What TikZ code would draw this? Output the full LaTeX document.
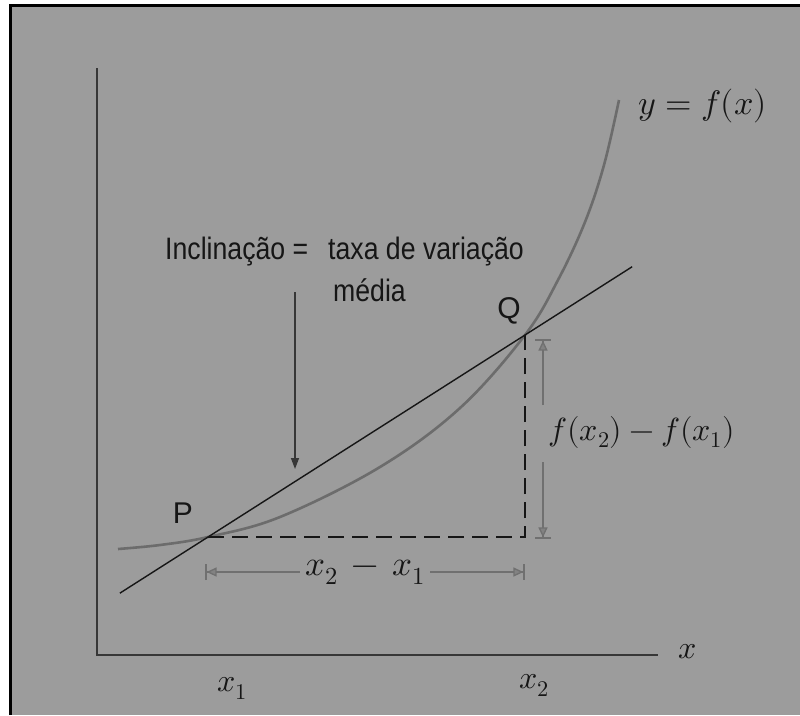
\documentclass[tikz,border=0pt]{standalone}
\usepackage{fontspec}
\usepackage{unicode-math}
\setmathfont{Latin Modern Math}
\usetikzlibrary{arrows.meta,calc}
\newfontfamily\condsans[FakeStretch=0.86]{Liberation Sans}
\newfontfamily\plainsans{Liberation Sans}
\definecolor{bggray}{RGB}{156,156,156}
\definecolor{curvegray}{RGB}{108,108,108}
\definecolor{arrgray}{RGB}{112,112,112}
\definecolor{axisgray}{RGB}{55,55,55}
\definecolor{ink}{RGB}{22,22,22}
\tikzset{
  axisline/.style={axisgray, line width=1.8pt},
  curveline/.style={curvegray, line width=2.6pt},
  secline/.style={ink, line width=1.4pt},
  dashline/.style={ink, line width=2.4pt, dash pattern=on 16pt off 8pt},
  grayarrow/.style={arrgray, line width=1.3pt,
     -{Triangle[length=10pt,width=9pt,open,fill=arrgray!60!bggray] Bar[width=16pt,line width=1.6pt]}},
  pointer/.style={axisgray, line width=1.4pt, -{Triangle[length=11pt,width=8pt]}},
  mathlbl/.style={text=ink, inner sep=0pt, font=\fontsize{32}{38}\selectfont},
  sanslbl/.style={text=ink, inner sep=0pt, font=\plainsans\fontsize{30}{36}\selectfont},
  condlbl/.style={text=ink, inner sep=0pt, font=\condsans\fontsize{31}{37}\selectfont},
}
\begin{document}
\begin{tikzpicture}[x=1pt,y=-1pt]
\useasboundingbox (0,0) rectangle (800,715);
\fill[white] (0,0) rectangle (800,715);
\fill[bggray] (10,5) rectangle (800,715);
\draw[black, line width=2.6pt] (10.7,715) -- (10.7,5.5) -- (800,5.5);

% axes
\coordinate (O) at (97,655);
\coordinate (ytop) at (97,68);
\coordinate (xend) at (658,655);
\draw[axisline] (ytop) -- (O) -- (xend);
\node[mathlbl] (xlab) at (688,652) {$x$};
\node[mathlbl] (x1lab) at (232,688) {$x_1$};
\node[mathlbl] (x2lab) at (534,685) {$x_2$};

% points
\coordinate (P) at (208,537);
\coordinate (Q) at (525,335);
\coordinate (C) at (525,537);

% curve
\draw[curveline] plot[smooth, tension=0.6] coordinates {
  (118,549) (160,545) (208,537) (280,517) (380,467) (460,408) (525,335)
  (558,280) (585,222) (604,165) (619,100)};
\node[mathlbl, anchor=west, font=\fontsize{34}{40}\selectfont] (flab) at (638,106) {$y=f(x)$};

% secant
\draw[secline] ($(P)!-0.278!(Q)$) -- ($(P)!1.338!(Q)$);

% dashed legs
\draw[dashline] (P) -- (C) -- (Q);

% labels P, Q
\node[sanslbl] (Plab) at (183,513) {P};
\node[sanslbl] (Qlab) at (509,311) {Q};

% vertical difference arrow
\node[mathlbl] (dflab) at (642,432) {$f(x_2)-f(x_1)$};
\coordinate (vtop) at (543,339);
\coordinate (vbot) at (543,539);
\coordinate (vtopin) at (543,405);
\coordinate (vbotin) at (543,462);
\draw[grayarrow] (vtopin) -- (vtop);
\draw[grayarrow] (vbotin) -- (vbot);

% horizontal difference arrow
\node[mathlbl, font=\fontsize{35}{40}\selectfont] (dxlab) at (365,572) {$x_2\,-\,x_1$};
\coordinate (hleft) at (205,572);
\coordinate (hright) at (525,572);
\draw[grayarrow] (dxlab.west) ++(-5,0) coordinate (hl0) (hl0) -- (hleft);
\draw[grayarrow] (dxlab.east) ++(5,0) coordinate (hr0) (hr0) -- (hright);

% slope annotation
\node[condlbl, anchor=west] (incl) at (165,252) {Inclinação =\hspace{20pt}taxa de variação};
\node[condlbl, anchor=west] (media) at (333,290) {média};
\coordinate (ptop) at (295,292);
\coordinate (pend) at (295,469);
\draw[pointer] (ptop) -- (pend);
\end{tikzpicture}
\end{document}
